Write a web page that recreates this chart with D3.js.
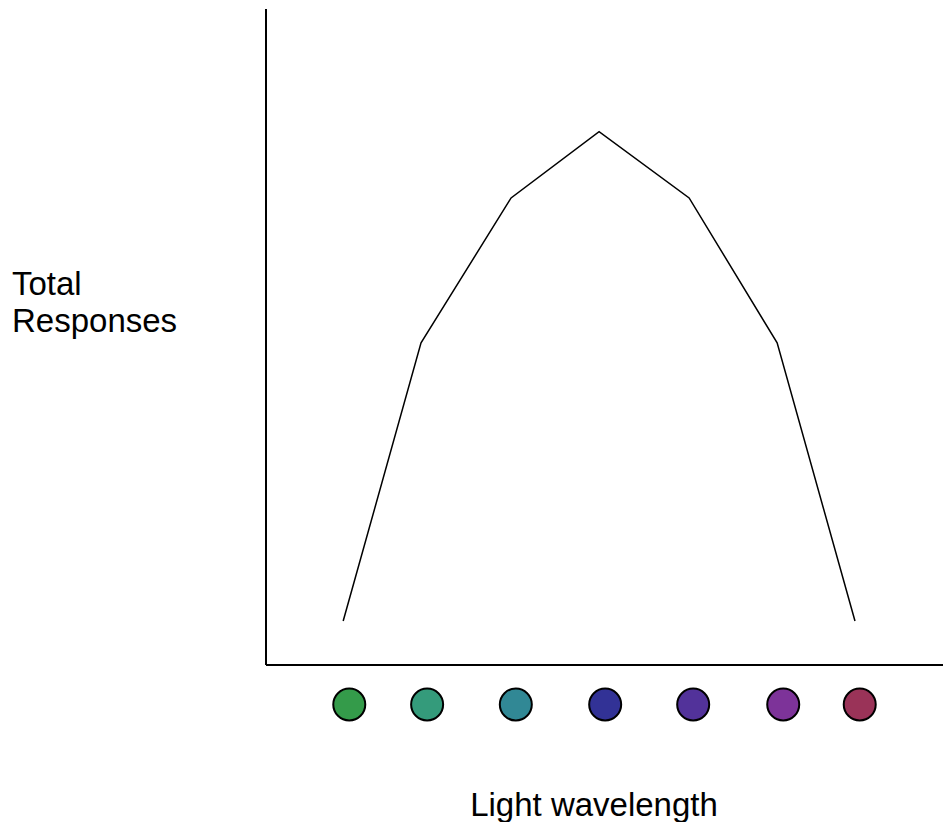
<!DOCTYPE html>
<html>
<head>
<meta charset="utf-8">
<script src="https://cdn.jsdelivr.net/npm/d3@7"></script>
<style>
  body { margin: 0; background: #fff; }
  text { font-family: "Liberation Sans", Arial, sans-serif; fill: #000; }
</style>
</head>
<body>
<div id="chart"></div>
<script>
// response curve, x in arbitrary wavelength units (0-100), y in % of max
const linePos = [11.4, 22.9, 36.2, 49.2, 62.5, 75.5, 87.0];
const responses = [6.7, 49.1, 71.2, 81.3, 71.2, 49.1, 6.7];

// colour swatches under the axis
const swatchPos = [12.3, 23.8, 36.9, 50.1, 63.1, 76.4, 87.7];
const swatchColors = ["#349b4a", "#349b7b", "#318895", "#323296", "#52329a", "#7d3399", "#9a3358"];

const yLabel = ["Total", "Responses"];
const xLabel = "Light wavelength";

let margin = {top: 9, right: 0, bottom: 157, left: 266},
  width = 943 - margin.left - margin.right,
  height = 822 - margin.top - margin.bottom;

let svg = d3.select("#chart")
  .append("svg")
    .attr("width", 943)
    .attr("height", 822);

let main = svg.append("g")
  .attr("transform", "translate(" + margin.left + "," + margin.top + ")");

let xScale = d3.scaleLinear().domain([0, 100]).range([0, width]);
let yScale = d3.scaleLinear().domain([0, 100]).range([height, 0]);

// axes as plain lines (no ticks)
main.append("line")
  .attr("x1", 0).attr("x2", 0)
  .attr("y1", yScale(100)).attr("y2", yScale(0))
  .attr("stroke", "#000").attr("stroke-width", 2);
main.append("line")
  .attr("x1", 0).attr("x2", xScale(100))
  .attr("y1", yScale(0)).attr("y2", yScale(0))
  .attr("stroke", "#000").attr("stroke-width", 2);

let line = d3.line()
  .x((d, i) => xScale(linePos[i]))
  .y(d => yScale(d));

main.append("path")
  .datum(responses)
  .attr("d", line)
  .attr("fill", "none")
  .attr("stroke", "#000")
  .attr("stroke-width", 1.5);

main.append("g")
  .selectAll("circle")
  .data(swatchPos)
  .join("circle")
    .attr("cx", d => xScale(d))
    .attr("cy", height + 39.5)
    .attr("r", 16)
    .attr("fill", (d, i) => swatchColors[i])
    .attr("stroke", "#000")
    .attr("stroke-width", 2);

svg.append("text")
  .attr("x", 12)
  .attr("y", 295)
  .attr("font-size", 33)
  .selectAll("tspan")
  .data(yLabel)
  .join("tspan")
    .attr("x", 12)
    .attr("dy", (d, i) => i == 0 ? 0 : 37)
    .text(d => d);

svg.append("text")
  .attr("x", 594)
  .attr("y", 816)
  .attr("text-anchor", "middle")
  .attr("font-size", 33)
  .text(xLabel);
</script>
</body>
</html>
